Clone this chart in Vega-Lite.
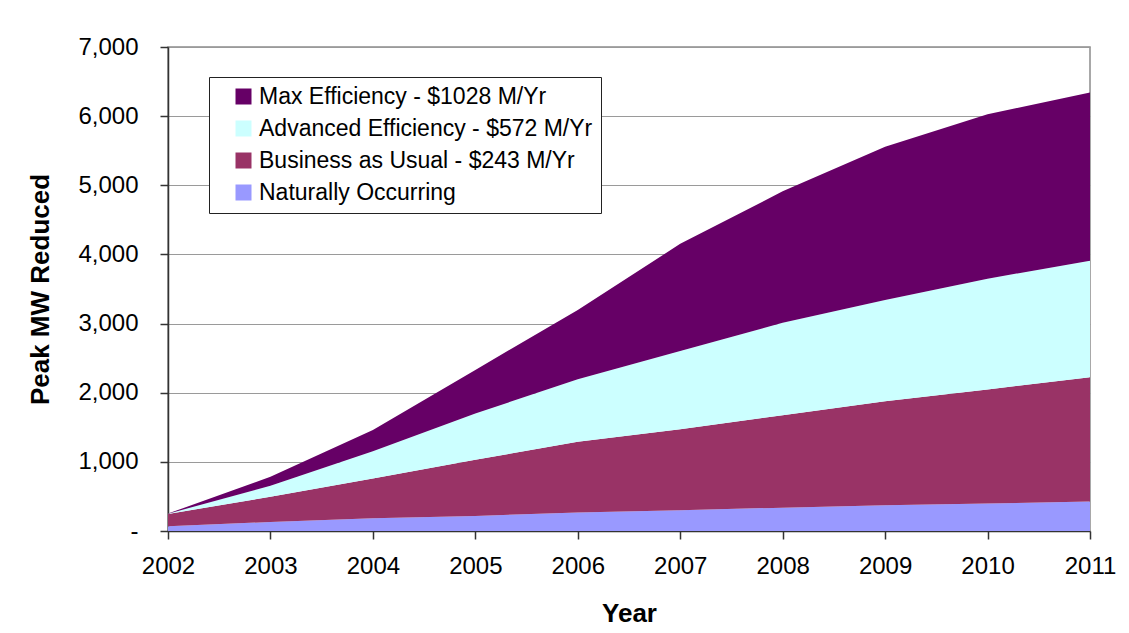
{
  "$schema": "https://vega.github.io/schema/vega-lite/v6.json",
  "autosize": {"type": "none"},
  "width": 922,
  "height": 484,
  "padding": {"left": 168, "top": 47, "right": 39, "bottom": 102},
  "background": "white",
  "config": {
    "font": "Liberation Sans",
    "view": {"stroke": "#8c8c8c", "strokeWidth": 1.5},
    "axis": {
      "labelFont": "Liberation Sans",
      "titleFont": "Liberation Sans",
      "labelColor": "black",
      "titleColor": "black",
      "domainColor": "#333333",
      "domainWidth": 1.5,
      "tickColor": "#333333",
      "tickWidth": 1.5
    }
  },
  "data": {
    "values": [
      {"year": 2002, "series": "Naturally Occurring", "mw": 70},
      {"year": 2003, "series": "Naturally Occurring", "mw": 130},
      {"year": 2004, "series": "Naturally Occurring", "mw": 185},
      {"year": 2005, "series": "Naturally Occurring", "mw": 218},
      {"year": 2006, "series": "Naturally Occurring", "mw": 266},
      {"year": 2007, "series": "Naturally Occurring", "mw": 300},
      {"year": 2008, "series": "Naturally Occurring", "mw": 338},
      {"year": 2009, "series": "Naturally Occurring", "mw": 373},
      {"year": 2010, "series": "Naturally Occurring", "mw": 397},
      {"year": 2011, "series": "Naturally Occurring", "mw": 425},
      {"year": 2002, "series": "Business as Usual - $243 M/Yr", "mw": 177},
      {"year": 2003, "series": "Business as Usual - $243 M/Yr", "mw": 364},
      {"year": 2004, "series": "Business as Usual - $243 M/Yr", "mw": 575},
      {"year": 2005, "series": "Business as Usual - $243 M/Yr", "mw": 812},
      {"year": 2006, "series": "Business as Usual - $243 M/Yr", "mw": 1024},
      {"year": 2007, "series": "Business as Usual - $243 M/Yr", "mw": 1170},
      {"year": 2008, "series": "Business as Usual - $243 M/Yr", "mw": 1337},
      {"year": 2009, "series": "Business as Usual - $243 M/Yr", "mw": 1502},
      {"year": 2010, "series": "Business as Usual - $243 M/Yr", "mw": 1651},
      {"year": 2011, "series": "Business as Usual - $243 M/Yr", "mw": 1797},
      {"year": 2002, "series": "Advanced Efficiency - $572 M/Yr", "mw": 3},
      {"year": 2003, "series": "Advanced Efficiency - $572 M/Yr", "mw": 159},
      {"year": 2004, "series": "Advanced Efficiency - $572 M/Yr", "mw": 395},
      {"year": 2005, "series": "Advanced Efficiency - $572 M/Yr", "mw": 670},
      {"year": 2006, "series": "Advanced Efficiency - $572 M/Yr", "mw": 905},
      {"year": 2007, "series": "Advanced Efficiency - $572 M/Yr", "mw": 1135},
      {"year": 2008, "series": "Advanced Efficiency - $572 M/Yr", "mw": 1336},
      {"year": 2009, "series": "Advanced Efficiency - $572 M/Yr", "mw": 1465},
      {"year": 2010, "series": "Advanced Efficiency - $572 M/Yr", "mw": 1602},
      {"year": 2011, "series": "Advanced Efficiency - $572 M/Yr", "mw": 1685},
      {"year": 2002, "series": "Max Efficiency - $1028 M/Yr", "mw": 2},
      {"year": 2003, "series": "Max Efficiency - $1028 M/Yr", "mw": 131},
      {"year": 2004, "series": "Max Efficiency - $1028 M/Yr", "mw": 305},
      {"year": 2005, "series": "Max Efficiency - $1028 M/Yr", "mw": 630},
      {"year": 2006, "series": "Max Efficiency - $1028 M/Yr", "mw": 1002},
      {"year": 2007, "series": "Max Efficiency - $1028 M/Yr", "mw": 1548},
      {"year": 2008, "series": "Max Efficiency - $1028 M/Yr", "mw": 1902},
      {"year": 2009, "series": "Max Efficiency - $1028 M/Yr", "mw": 2218},
      {"year": 2010, "series": "Max Efficiency - $1028 M/Yr", "mw": 2377},
      {"year": 2011, "series": "Max Efficiency - $1028 M/Yr", "mw": 2435}
    ]
  },
  "transform": [
    {"calculate": "indexof(['Naturally Occurring','Business as Usual - $243 M/Yr','Advanced Efficiency - $572 M/Yr','Max Efficiency - $1028 M/Yr'], datum.series)", "as": "stackIndex"}
  ],
  "mark": {"type": "area", "opacity": 1, "strokeWidth": 0},
  "encoding": {
    "x": {
      "field": "year",
      "type": "quantitative",
      "scale": {"domain": [2002, 2011], "nice": false, "zero": false},
      "axis": {
        "values": [2002, 2003, 2004, 2005, 2006, 2007, 2008, 2009, 2010, 2011],
        "format": "d",
        "grid": false,
        "title": "Year",
        "titleFontSize": 26,
        "titleFontWeight": "bold",
        "titlePadding": 22,
        "labelFontSize": 24,
        "labelPadding": 15,
        "tickSize": 8,
        "labelFlush": false,
        "labelOverlap": false
      }
    },
    "y": {
      "field": "mw",
      "type": "quantitative",
      "stack": "zero",
      "scale": {"domain": [0, 7000], "nice": false},
      "axis": {
        "values": [0, 1000, 2000, 3000, 4000, 5000, 6000, 7000],
        "labelExpr": "datum.value == 0 ? '-' : format(datum.value, ',')",
        "grid": true,
        "gridColor": "#9a9a9a",
        "gridWidth": 1,
        "title": "Peak MW Reduced",
        "titleFontSize": 26,
        "titleFontWeight": "bold",
        "titlePadding": 24,
        "labelFontSize": 24,
        "labelPadding": 22,
        "tickSize": 8,
        "labelOverlap": false
      }
    },
    "color": {
      "field": "series",
      "type": "nominal",
      "scale": {
        "domain": ["Max Efficiency - $1028 M/Yr", "Advanced Efficiency - $572 M/Yr", "Business as Usual - $243 M/Yr", "Naturally Occurring"],
        "range": ["#660066", "#CCFFFF", "#993366", "#9999FF"]
      },
      "legend": {
        "title": null,
        "orient": "none",
        "legendX": 41,
        "legendY": 30,
        "direction": "vertical",
        "fillColor": "white",
        "strokeColor": "#222222",
        "padding": 8,
        "labelFontSize": 23,
        "labelFont": "Liberation Sans",
        "labelColor": "black",
        "labelLimit": 500,
        "labelOffset": 4,
        "symbolType": "square",
        "symbolSize": 256,
        "symbolStrokeWidth": 0,
        "symbolOffset": 15,
        "rowPadding": 8
      }
    },
    "order": {"field": "stackIndex", "type": "quantitative", "sort": "ascending"}
  }
}
